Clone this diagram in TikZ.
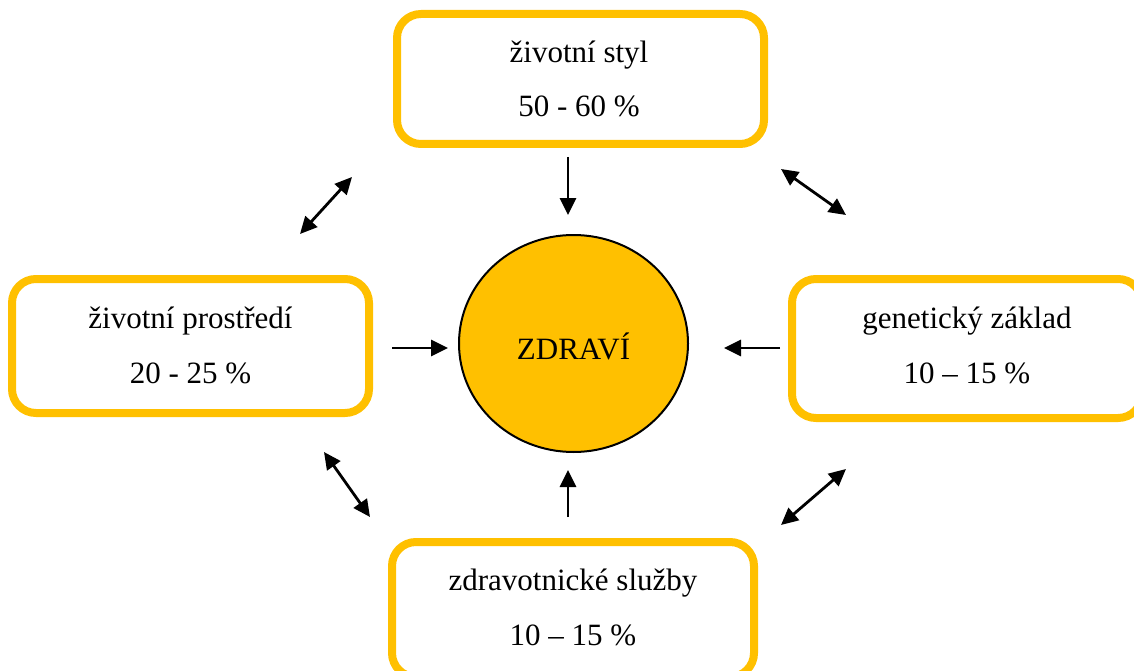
\documentclass[tikz,border=0pt]{standalone}
\usepackage{fontspec}
\setmainfont{Liberation Serif}
\usetikzlibrary{arrows.meta,shapes.geometric}
\definecolor{gold}{HTML}{FFC000}
\tikzset{
  factorbox/.style={draw=gold, line width=8pt, rounded corners=24pt, fill=white, inner sep=0pt},
  lbl/.style={anchor=base, inner sep=0pt, font=\fontsize{31}{37}\selectfont},
  conn/.style={line width=2.8pt, -{Triangle[length=17pt,width=16pt]}},
  dconn/.style={line width=2.8pt, {Triangle[length=17pt,width=16pt]}-{Triangle[length=17pt,width=16pt]}},
}
\begin{document}
\begin{tikzpicture}[x=1pt,y=-1pt]
\useasboundingbox (0,0) rectangle (1134,671);
\clip (0,0) rectangle (1134,671);
% boxes
\node[factorbox, minimum width=367pt, minimum height=130pt] (styl) at (580.5,79) {};
\node[factorbox, minimum width=357pt, minimum height=134pt] (prostredi) at (190.5,346) {};
\node[factorbox, minimum width=350pt, minimum height=139pt] (genetika) at (967,348.5) {};
\node[factorbox, minimum width=362pt, minimum height=135pt] (sluzby) at (573,609.5) {};
% circle
\node[draw=black, line width=2pt, fill=gold, ellipse, minimum width=229pt, minimum height=217pt, inner sep=0pt] (zdravi) at (573.5,343.5) {};
\node[lbl] (zdravit) at (573.5,359) {ZDRAVÍ};
% texts
\node[lbl] (stylA) at (579,63) {životní styl};
\node[lbl] (stylB) at (579,117) {50 - 60 \%};
\node[lbl] (prosA) at (190.5,328) {životní prostředí};
\node[lbl] (prosB) at (190.5,383) {20 - 25 \%};
\node[lbl] (genA) at (967,328) {genetický základ};
\node[lbl] (genB) at (967,383) {10 – 15 \%};
\node[lbl] (sluA) at (573,590) {zdravotnické služby};
\node[lbl] (sluB) at (573,645) {10 – 15 \%};
% arrow end points
\coordinate (t1) at (568,157); \coordinate (t2) at (568,215);
\coordinate (l1) at (392,348); \coordinate (l2) at (448,348);
\coordinate (r1) at (780,348); \coordinate (r2) at (724,348);
\coordinate (b1) at (568,517); \coordinate (b2) at (568,470);
\coordinate (tl1) at (300,234); \coordinate (tl2) at (352,177);
\coordinate (tr1) at (781,169); \coordinate (tr2) at (846,215);
\coordinate (bl1) at (324,452); \coordinate (bl2) at (370,517);
\coordinate (br1) at (846,469); \coordinate (br2) at (781,525);
\draw[conn] (t1) -- (t2);
\draw[conn] (l1) -- (l2);
\draw[conn] (r1) -- (r2);
\draw[conn] (b1) -- (b2);
\draw[dconn] (tl1) -- (tl2);
\draw[dconn] (tr1) -- (tr2);
\draw[dconn] (bl1) -- (bl2);
\draw[dconn] (br1) -- (br2);
\end{tikzpicture}
\end{document}
